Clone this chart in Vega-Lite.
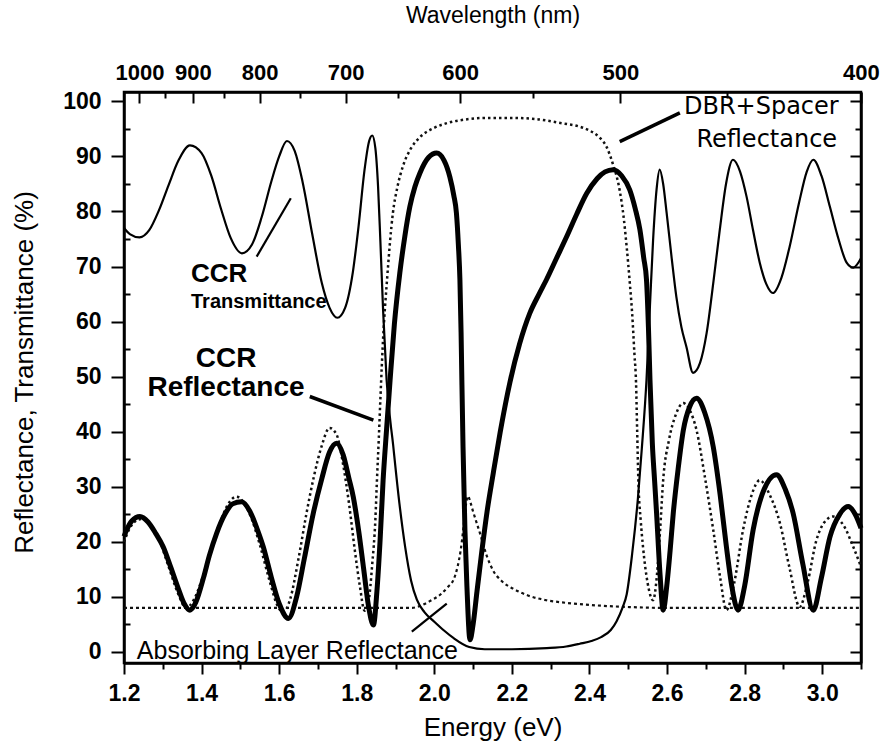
{
  "$schema": "https://vega.github.io/schema/vega-lite/v6.json",
  "width": 737,
  "height": 571,
  "autosize": "none",
  "padding": {"left": 124, "top": 92, "right": 25, "bottom": 87},
  "background": "white",
  "config": {
    "view": {"stroke": "black", "strokeWidth": 2.5},
    "axis": {
      "domainColor": "black", "domainWidth": 2.5, "tickColor": "black", "tickWidth": 2,
      "labelColor": "black", "titleColor": "black", "labelFont": "Liberation Sans",
      "titleFont": "Liberation Sans", "grid": false, "titleFontWeight": "normal",
      "labelFontWeight": "bold", "labelFlush": false, "labelOverlap": false
    }
  },
  "datasets": {
    "trans": [
      {"e":1.200,"v":77.0},{"e":1.215,"v":75.9},{"e":1.240,"v":75.3},{"e":1.265,"v":76.6},{"e":1.290,"v":80.2},{"e":1.315,"v":84.8},{"e":1.340,"v":89.2},{"e":1.370,"v":92.0},{"e":1.400,"v":90.6},{"e":1.425,"v":86.5},{"e":1.450,"v":80.5},{"e":1.475,"v":75.2},{"e":1.504,"v":72.4},{"e":1.530,"v":74.0},{"e":1.555,"v":79.0},{"e":1.580,"v":85.5},{"e":1.600,"v":90.0},{"e":1.620,"v":92.8},{"e":1.640,"v":91.0},{"e":1.660,"v":85.5},{"e":1.685,"v":76.0},{"e":1.710,"v":67.0},{"e":1.730,"v":62.5},{"e":1.750,"v":60.7},{"e":1.770,"v":62.5},{"e":1.790,"v":69.0},{"e":1.805,"v":77.5},{"e":1.820,"v":87.5},{"e":1.832,"v":92.8},{"e":1.840,"v":93.8},{"e":1.848,"v":91.5},{"e":1.855,"v":84.5},{"e":1.861,"v":74.5},{"e":1.868,"v":62.0},{"e":1.877,"v":49.4},{"e":1.894,"v":37.5},{"e":1.910,"v":27.0},{"e":1.925,"v":19.0},{"e":1.940,"v":13.0},{"e":1.955,"v":9.5},{"e":1.975,"v":7.2},{"e":2.000,"v":5.5},{"e":2.025,"v":3.9},{"e":2.050,"v":2.5},{"e":2.090,"v":0.9},{"e":2.130,"v":0.5},{"e":2.200,"v":0.5},{"e":2.290,"v":0.7},{"e":2.340,"v":1.0},{"e":2.375,"v":1.5},{"e":2.405,"v":2.0},{"e":2.430,"v":2.7},{"e":2.455,"v":4.0},{"e":2.470,"v":5.6},{"e":2.485,"v":8.0},{"e":2.496,"v":10.5},{"e":2.510,"v":17.8},{"e":2.525,"v":28.0},{"e":2.535,"v":37.0},{"e":2.547,"v":49.4},{"e":2.556,"v":63.0},{"e":2.564,"v":74.8},{"e":2.573,"v":84.0},{"e":2.581,"v":87.6},{"e":2.590,"v":85.0},{"e":2.599,"v":79.7},{"e":2.612,"v":71.5},{"e":2.624,"v":64.5},{"e":2.637,"v":59.0},{"e":2.650,"v":55.4},{"e":2.667,"v":50.7},{"e":2.685,"v":52.5},{"e":2.702,"v":57.9},{"e":2.720,"v":67.5},{"e":2.736,"v":76.7},{"e":2.752,"v":85.0},{"e":2.770,"v":89.4},{"e":2.788,"v":87.3},{"e":2.805,"v":82.7},{"e":2.822,"v":76.5},{"e":2.839,"v":70.7},{"e":2.856,"v":66.8},{"e":2.873,"v":65.2},{"e":2.895,"v":68.0},{"e":2.916,"v":73.6},{"e":2.940,"v":81.5},{"e":2.960,"v":87.2},{"e":2.977,"v":89.4},{"e":2.998,"v":86.5},{"e":3.020,"v":80.8},{"e":3.042,"v":75.0},{"e":3.063,"v":70.7},{"e":3.080,"v":69.8},{"e":3.100,"v":71.5}
    ],
    "ccr": [
      {"e":1.200,"v":21.0},{"e":1.207,"v":22.2},{"e":1.220,"v":23.8},{"e":1.241,"v":24.6},{"e":1.262,"v":23.6},{"e":1.282,"v":21.5},{"e":1.301,"v":19.1},{"e":1.320,"v":15.5},{"e":1.340,"v":11.5},{"e":1.355,"v":8.8},{"e":1.370,"v":7.6},{"e":1.385,"v":9.0},{"e":1.405,"v":13.5},{"e":1.420,"v":17.5},{"e":1.439,"v":21.6},{"e":1.460,"v":25.0},{"e":1.480,"v":26.9},{"e":1.503,"v":27.3},{"e":1.525,"v":25.5},{"e":1.545,"v":22.0},{"e":1.559,"v":19.1},{"e":1.580,"v":13.5},{"e":1.600,"v":8.8},{"e":1.624,"v":6.1},{"e":1.645,"v":10.0},{"e":1.665,"v":17.0},{"e":1.688,"v":25.2},{"e":1.710,"v":31.5},{"e":1.730,"v":36.3},{"e":1.748,"v":37.9},{"e":1.765,"v":35.8},{"e":1.780,"v":31.5},{"e":1.791,"v":28.2},{"e":1.805,"v":22.0},{"e":1.818,"v":15.0},{"e":1.830,"v":8.5},{"e":1.843,"v":4.9},{"e":1.852,"v":11.0},{"e":1.860,"v":20.0},{"e":1.868,"v":31.2},{"e":1.877,"v":40.5},{"e":1.886,"v":49.4},{"e":1.897,"v":59.5},{"e":1.911,"v":68.8},{"e":1.924,"v":75.5},{"e":1.937,"v":80.9},{"e":1.950,"v":84.5},{"e":1.963,"v":87.0},{"e":1.985,"v":89.8},{"e":2.006,"v":90.6},{"e":2.025,"v":89.3},{"e":2.040,"v":86.3},{"e":2.050,"v":83.0},{"e":2.057,"v":79.7},{"e":2.062,"v":74.0},{"e":2.066,"v":67.6},{"e":2.069,"v":58.0},{"e":2.071,"v":49.4},{"e":2.074,"v":37.3},{"e":2.079,"v":22.0},{"e":2.084,"v":12.0},{"e":2.092,"v":2.2},{"e":2.100,"v":5.0},{"e":2.110,"v":11.0},{"e":2.122,"v":18.0},{"e":2.136,"v":25.5},{"e":2.152,"v":32.5},{"e":2.170,"v":40.0},{"e":2.195,"v":49.0},{"e":2.220,"v":56.0},{"e":2.246,"v":61.5},{"e":2.270,"v":65.0},{"e":2.289,"v":67.6},{"e":2.315,"v":71.5},{"e":2.341,"v":75.4},{"e":2.367,"v":79.5},{"e":2.393,"v":83.3},{"e":2.420,"v":86.0},{"e":2.440,"v":87.2},{"e":2.461,"v":87.6},{"e":2.483,"v":86.5},{"e":2.504,"v":83.9},{"e":2.518,"v":80.5},{"e":2.530,"v":76.7},{"e":2.540,"v":71.5},{"e":2.547,"v":67.6},{"e":2.552,"v":59.0},{"e":2.556,"v":49.4},{"e":2.562,"v":38.0},{"e":2.568,"v":31.0},{"e":2.573,"v":25.2},{"e":2.582,"v":14.0},{"e":2.590,"v":7.6},{"e":2.600,"v":12.5},{"e":2.608,"v":18.5},{"e":2.616,"v":25.2},{"e":2.629,"v":33.5},{"e":2.642,"v":40.3},{"e":2.658,"v":44.5},{"e":2.676,"v":46.1},{"e":2.697,"v":43.5},{"e":2.719,"v":37.3},{"e":2.737,"v":28.5},{"e":2.753,"v":19.1},{"e":2.768,"v":11.5},{"e":2.783,"v":7.6},{"e":2.800,"v":12.0},{"e":2.822,"v":22.2},{"e":2.850,"v":29.5},{"e":2.882,"v":32.2},{"e":2.905,"v":29.5},{"e":2.925,"v":25.2},{"e":2.950,"v":16.0},{"e":2.977,"v":7.6},{"e":2.998,"v":13.5},{"e":3.020,"v":20.9},{"e":3.045,"v":25.0},{"e":3.067,"v":26.4},{"e":3.085,"v":25.0},{"e":3.100,"v":22.5}
    ],
    "dbr": [
      {"e":1.200,"v":20.0},{"e":1.215,"v":22.5},{"e":1.235,"v":24.0},{"e":1.250,"v":24.2},{"e":1.270,"v":23.0},{"e":1.290,"v":20.5},{"e":1.315,"v":15.5},{"e":1.340,"v":10.5},{"e":1.360,"v":8.0},{"e":1.380,"v":9.5},{"e":1.400,"v":13.0},{"e":1.420,"v":17.5},{"e":1.445,"v":23.0},{"e":1.468,"v":26.8},{"e":1.490,"v":28.2},{"e":1.510,"v":27.0},{"e":1.530,"v":24.0},{"e":1.550,"v":19.5},{"e":1.575,"v":13.0},{"e":1.595,"v":8.5},{"e":1.610,"v":7.2},{"e":1.628,"v":9.5},{"e":1.650,"v":17.0},{"e":1.670,"v":25.0},{"e":1.690,"v":32.0},{"e":1.710,"v":37.5},{"e":1.730,"v":40.7},{"e":1.748,"v":39.5},{"e":1.765,"v":34.0},{"e":1.780,"v":27.0},{"e":1.795,"v":18.5},{"e":1.808,"v":12.0},{"e":1.820,"v":7.5},{"e":1.830,"v":9.0},{"e":1.840,"v":16.0},{"e":1.848,"v":24.0},{"e":1.852,"v":31.0},{"e":1.857,"v":39.0},{"e":1.861,"v":46.0},{"e":1.868,"v":57.0},{"e":1.878,"v":67.5},{"e":1.893,"v":79.6},{"e":1.905,"v":84.5},{"e":1.919,"v":88.2},{"e":1.940,"v":91.5},{"e":1.963,"v":93.5},{"e":2.000,"v":95.2},{"e":2.030,"v":96.0},{"e":2.080,"v":96.7},{"e":2.135,"v":97.0},{"e":2.200,"v":97.0},{"e":2.260,"v":96.8},{"e":2.330,"v":96.0},{"e":2.370,"v":95.5},{"e":2.400,"v":94.7},{"e":2.425,"v":93.5},{"e":2.445,"v":91.6},{"e":2.460,"v":88.7},{"e":2.478,"v":83.8},{"e":2.488,"v":79.0},{"e":2.496,"v":73.5},{"e":2.504,"v":67.0},{"e":2.510,"v":61.5},{"e":2.516,"v":54.0},{"e":2.520,"v":49.0},{"e":2.523,"v":40.0},{"e":2.526,"v":31.2},{"e":2.532,"v":24.0},{"e":2.538,"v":19.1},{"e":2.550,"v":12.5},{"e":2.564,"v":9.4},{"e":2.574,"v":14.0},{"e":2.582,"v":22.0},{"e":2.590,"v":31.2},{"e":2.605,"v":38.5},{"e":2.622,"v":43.0},{"e":2.642,"v":45.2},{"e":2.660,"v":43.7},{"e":2.676,"v":40.3},{"e":2.697,"v":32.0},{"e":2.719,"v":22.2},{"e":2.737,"v":13.5},{"e":2.753,"v":7.6},{"e":2.773,"v":12.5},{"e":2.796,"v":22.2},{"e":2.818,"v":28.5},{"e":2.839,"v":31.2},{"e":2.865,"v":28.5},{"e":2.891,"v":23.4},{"e":2.915,"v":15.5},{"e":2.942,"v":8.2},{"e":2.962,"v":12.5},{"e":2.985,"v":20.3},{"e":3.005,"v":23.5},{"e":3.028,"v":24.6},{"e":3.055,"v":23.0},{"e":3.080,"v":19.1},{"e":3.100,"v":15.5}
    ],
    "abs": [
      {"e":1.200,"v":8.0},{"e":1.400,"v":8.0},{"e":1.600,"v":8.0},{"e":1.800,"v":8.0},{"e":1.940,"v":8.0},{"e":1.965,"v":8.4},{"e":1.990,"v":9.3},{"e":2.015,"v":10.4},{"e":2.035,"v":11.8},{"e":2.050,"v":13.2},{"e":2.060,"v":15.5},{"e":2.068,"v":18.5},{"e":2.075,"v":22.5},{"e":2.081,"v":26.5},{"e":2.087,"v":28.3},{"e":2.093,"v":27.2},{"e":2.100,"v":25.5},{"e":2.118,"v":21.5},{"e":2.135,"v":17.5},{"e":2.150,"v":15.0},{"e":2.175,"v":12.8},{"e":2.203,"v":11.5},{"e":2.240,"v":10.3},{"e":2.289,"v":9.4},{"e":2.330,"v":9.0},{"e":2.375,"v":8.7},{"e":2.430,"v":8.4},{"e":2.490,"v":8.2},{"e":2.600,"v":8.0},{"e":2.800,"v":8.0},{"e":3.000,"v":8.0},{"e":3.100,"v":8.0}
    ],
    "pointers": [
      {"id":"trans","e":1.542,"v":71.8,"e2":1.630,"v2":82.4},
      {"id":"ccr","e":1.679,"v":46.4,"e2":1.843,"v2":42.1},
      {"id":"dbr","e":2.478,"v":92.7,"e2":2.633,"v2":97.9},
      {"id":"abs","e":1.942,"v":3.7,"e2":2.032,"v2":8.8}
    ],
    "labels": [
      {"id":"ccrT","e":1.3727,"v":68.7,"text":"CCR"},
      {"id":"trans","e":1.3727,"v":63.5,"text":"Transmittance"},
      {"id":"ccrR1","e":1.463,"v":53.2,"text":"CCR"},
      {"id":"ccrR2","e":1.463,"v":48.0,"text":"Reflectance"},
      {"id":"dbr1","e":2.843,"v":99.0,"text":"DBR+Spacer"},
      {"id":"dbr2","e":2.857,"v":93.0,"text":"Reflectance"},
      {"id":"abs","e":1.647,"v":0.2,"text":"Absorbing Layer Reflectance"}
    ]
  },
  "layer": [
    {
      "data": {"name": "abs"},
      "mark": {"type": "line", "interpolate": "monotone", "color": "#111", "strokeWidth": 2.2, "strokeDash": [3, 3]},
      "encoding": {
        "x": {"field": "e", "type": "quantitative", "scale": {"domain": [1.2, 3.1], "nice": false, "zero": false}, "axis": null},
        "y": {"field": "v", "type": "quantitative", "scale": {"domain": [-2, 101.7], "nice": false, "zero": false}, "axis": null}
      }
    },
    {
      "data": {"name": "dbr"},
      "mark": {"type": "line", "interpolate": "monotone", "color": "#111", "strokeWidth": 2.5, "strokeDash": [2.5, 3]},
      "encoding": {
        "x": {"field": "e", "type": "quantitative", "scale": {"domain": [1.2, 3.1], "nice": false, "zero": false}, "axis": null},
        "y": {"field": "v", "type": "quantitative", "scale": {"domain": [-2, 101.7], "nice": false, "zero": false}, "axis": null}
      }
    },
    {
      "data": {"name": "trans"},
      "mark": {"type": "line", "interpolate": "monotone", "color": "black", "strokeWidth": 2.2},
      "encoding": {
        "x": {"field": "e", "type": "quantitative", "scale": {"domain": [1.2, 3.1], "nice": false, "zero": false},
          "axis": {"orient": "bottom", "title": "Energy (eV)", "titleFontSize": 26, "titleX": 368.5, "titleY": 64, "titleBaseline": "middle",
            "values": [1.2,1.3,1.4,1.5,1.6,1.7,1.8,1.9,2.0,2.1,2.2,2.3,2.4,2.5,2.6,2.7,2.8,2.9,3.0,3.1],
            "labelExpr": "round(datum.value*10) % 2 == 0 ? format(datum.value, '.1f') : ''",
            "tickSize": {"condition": {"test": "round(datum.value*10) % 2 == 0", "value": 11}, "value": 6},
            "labelFontSize": 23, "labelPadding": 8}},
        "y": {"field": "v", "type": "quantitative", "scale": {"domain": [-2, 101.7], "nice": false, "zero": false},
          "axis": {"orient": "left", "title": "Reflectance, Transmittance (%)", "titleFontSize": 26, "titleX": -100, "titleY": 280, "titleBaseline": "middle", "titleAngle": -90,
            "values": [0,5,10,15,20,25,30,35,40,45,50,55,60,65,70,75,80,85,90,95,100],
            "labelExpr": "datum.value % 10 == 0 ? datum.value : ''",
            "tickSize": {"condition": {"test": "datum.value % 10 == 0", "value": 13}, "value": -6},
            "labelFontSize": 23, "labelPadding": 10}}
      }
    },
    {
      "data": {"name": "ccr"},
      "mark": {"type": "line", "interpolate": "monotone", "color": "black", "strokeWidth": 5},
      "encoding": {
        "x": {"field": "e", "type": "quantitative", "scale": {"domain": [1.2, 3.1], "nice": false, "zero": false},
          "axis": {"orient": "top", "title": "Wavelength (nm)", "titleFontSize": 23, "titleX": 368.5, "titleY": -77, "titleBaseline": "middle",
            "values": [1.23984,1.30509,1.3776,1.45864,1.5498,1.65312,1.7712,1.90745,2.0664,2.25425,2.47968,2.7552,3.0996],
            "labelExpr": "round(1239.84/datum.value) % 100 == 0 ? '' + round(1239.84/datum.value) : ''",
            "tickSize": {"condition": {"test": "round(1239.84/datum.value) % 100 == 0", "value": -11}, "value": -6},
            "labelFontSize": 22, "labelPadding": 19}},
        "y": {"field": "v", "type": "quantitative", "scale": {"domain": [-2, 101.7], "nice": false, "zero": false},
          "axis": {"orient": "right", "title": null, "labels": false,
            "values": [0,5,10,15,20,25,30,35,40,45,50,55,60,65,70,75,80,85,90,95,100],
            "tickSize": {"condition": {"test": "datum.value % 10 == 0", "value": -11}, "value": -6}}}
      }
    },
    {
      "data": {"name": "pointers"},
      "transform": [{"filter": "datum.id == 'trans' || datum.id == 'abs'"}],
      "mark": {"type": "rule", "color": "black", "strokeWidth": 2.2},
      "encoding": {
        "x": {"field": "e", "type": "quantitative", "scale": {"domain": [1.2, 3.1], "nice": false, "zero": false}, "axis": null},
        "y": {"field": "v", "type": "quantitative", "scale": {"domain": [-2, 101.7], "nice": false, "zero": false}, "axis": null},
        "x2": {"field": "e2"},
        "y2": {"field": "v2"}
      }
    },
    {
      "data": {"name": "pointers"},
      "transform": [{"filter": "datum.id == 'ccr' || datum.id == 'dbr'"}],
      "mark": {"type": "rule", "color": "black", "strokeWidth": 3.5},
      "encoding": {
        "x": {"field": "e", "type": "quantitative", "scale": {"domain": [1.2, 3.1], "nice": false, "zero": false}, "axis": null},
        "y": {"field": "v", "type": "quantitative", "scale": {"domain": [-2, 101.7], "nice": false, "zero": false}, "axis": null},
        "x2": {"field": "e2"},
        "y2": {"field": "v2"}
      }
    },
    {
      "data": {"name": "labels"},
      "transform": [{"filter": "datum.id == 'ccrT'"}],
      "mark": {"type": "text", "font": "Liberation Sans", "fontSize": 26, "fontWeight": "bold", "align": "left", "baseline": "middle", "color": "black"},
      "encoding": {
        "x": {"field": "e", "type": "quantitative", "scale": {"domain": [1.2, 3.1], "nice": false, "zero": false}, "axis": null},
        "y": {"field": "v", "type": "quantitative", "scale": {"domain": [-2, 101.7], "nice": false, "zero": false}, "axis": null},
        "text": {"field": "text"}
      }
    },
    {
      "data": {"name": "labels"},
      "transform": [{"filter": "datum.id == 'trans'"}],
      "mark": {"type": "text", "font": "Liberation Sans", "fontSize": 20, "fontWeight": "bold", "align": "left", "baseline": "middle", "color": "black"},
      "encoding": {
        "x": {"field": "e", "type": "quantitative", "scale": {"domain": [1.2, 3.1], "nice": false, "zero": false}, "axis": null},
        "y": {"field": "v", "type": "quantitative", "scale": {"domain": [-2, 101.7], "nice": false, "zero": false}, "axis": null},
        "text": {"field": "text"}
      }
    },
    {
      "data": {"name": "labels"},
      "transform": [{"filter": "datum.id == 'ccrR1' || datum.id == 'ccrR2'"}],
      "mark": {"type": "text", "font": "Liberation Sans", "fontSize": 28, "fontWeight": "bold", "align": "center", "baseline": "middle", "color": "black"},
      "encoding": {
        "x": {"field": "e", "type": "quantitative", "scale": {"domain": [1.2, 3.1], "nice": false, "zero": false}, "axis": null},
        "y": {"field": "v", "type": "quantitative", "scale": {"domain": [-2, 101.7], "nice": false, "zero": false}, "axis": null},
        "text": {"field": "text"}
      }
    },
    {
      "data": {"name": "labels"},
      "transform": [{"filter": "datum.id == 'dbr1' || datum.id == 'dbr2'"}],
      "mark": {"type": "text", "font": "DejaVu Sans", "fontSize": 24, "align": "center", "baseline": "middle", "color": "black"},
      "encoding": {
        "x": {"field": "e", "type": "quantitative", "scale": {"domain": [1.2, 3.1], "nice": false, "zero": false}, "axis": null},
        "y": {"field": "v", "type": "quantitative", "scale": {"domain": [-2, 101.7], "nice": false, "zero": false}, "axis": null},
        "text": {"field": "text"}
      }
    },
    {
      "data": {"name": "labels"},
      "transform": [{"filter": "datum.id == 'abs'"}],
      "mark": {"type": "text", "font": "Liberation Sans", "fontSize": 25, "align": "center", "baseline": "middle", "color": "black"},
      "encoding": {
        "x": {"field": "e", "type": "quantitative", "scale": {"domain": [1.2, 3.1], "nice": false, "zero": false}, "axis": null},
        "y": {"field": "v", "type": "quantitative", "scale": {"domain": [-2, 101.7], "nice": false, "zero": false}, "axis": null},
        "text": {"field": "text"}
      }
    }
  ],
  "resolve": {"axis": {"x": "independent", "y": "independent"}}
}
